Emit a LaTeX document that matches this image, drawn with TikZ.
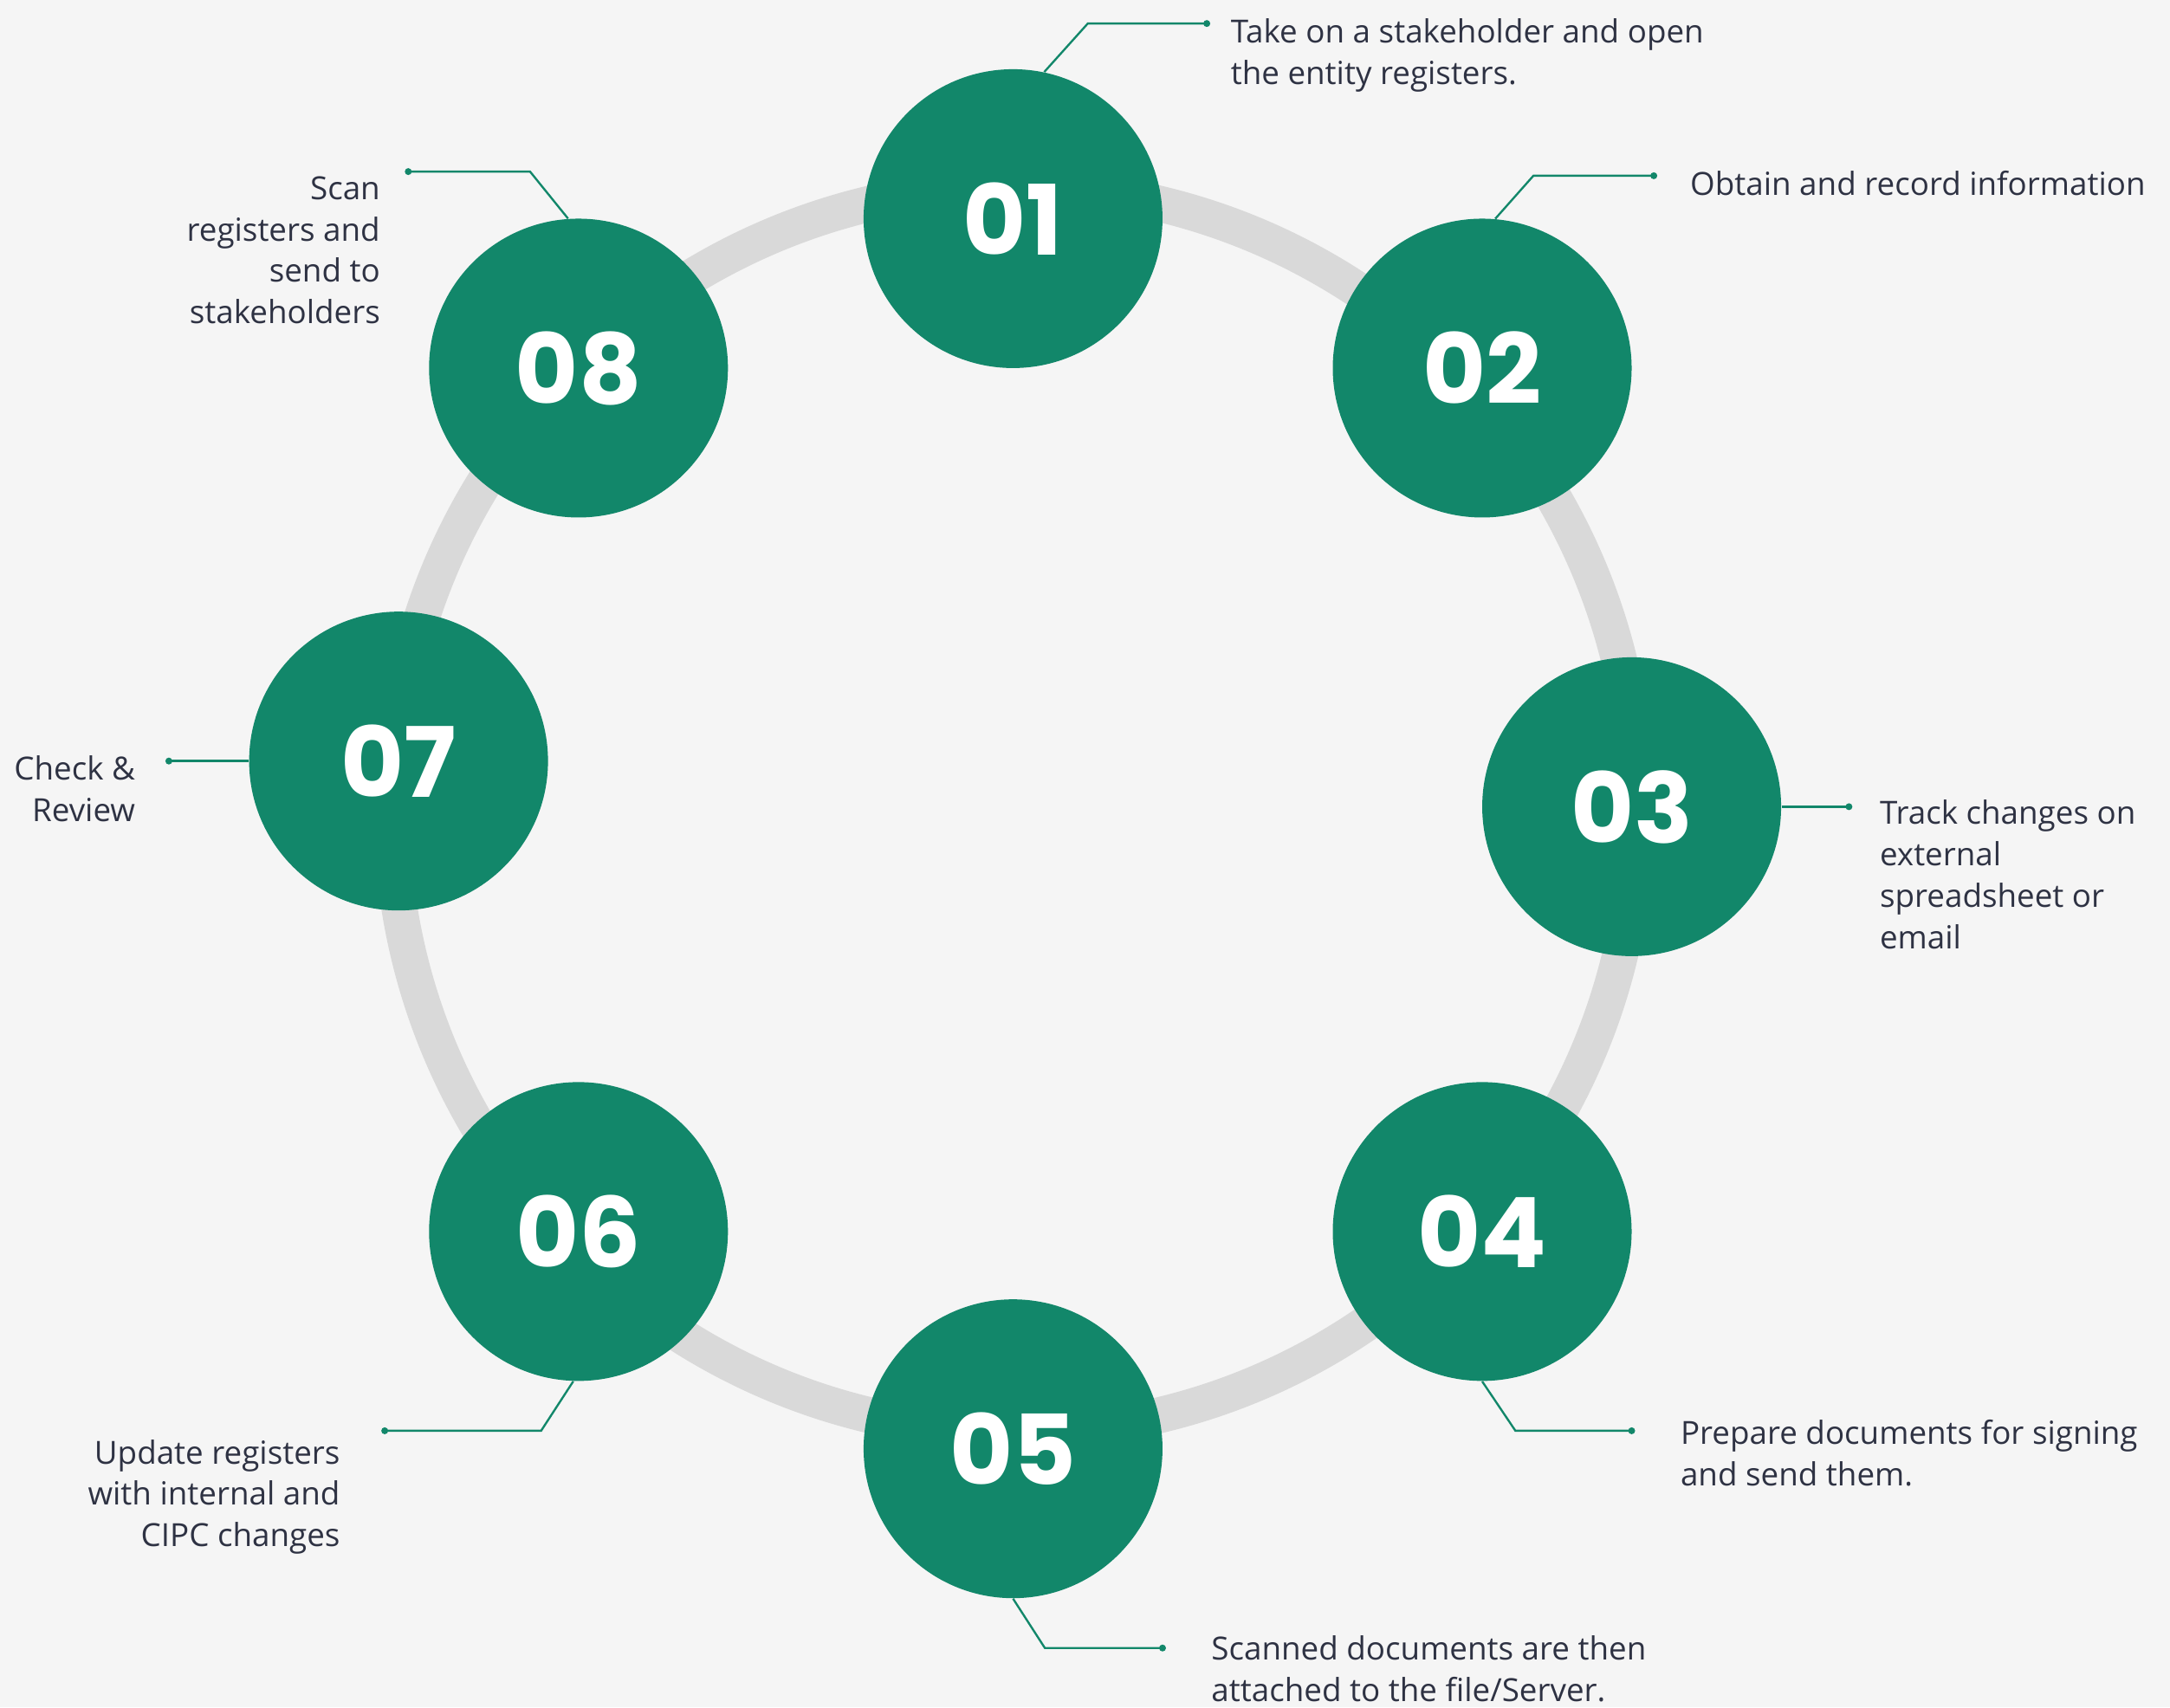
\documentclass[tikz,border=0pt]{standalone}
\usepackage{fontspec}
\setmainfont{Open Sans}
\newfontfamily\numfont{Poppins}
\usetikzlibrary{positioning}
\definecolor{stepgreen}{HTML}{12876A}
\definecolor{ringgray}{HTML}{D9D9D9}
\definecolor{pagebg}{HTML}{F5F5F5}
\definecolor{textdark}{HTML}{2E3243}

\begin{document}
\begin{tikzpicture}[x=0.02cm,y=-0.02cm,
        stepcircle/.style={circle,fill=stepgreen,minimum size=4.32cm,inner sep=0pt,
            text=white,font=\numfont\bfseries\fontsize{40}{40}\selectfont},
        lead/.style={stepgreen,line width=0.85pt},
        desc/.style={inner sep=0pt,text=textdark,font=\fontsize{13.1}{17.07}\selectfont}]
        \fill[pagebg] (0,0) rectangle (1568,1234);
        \useasboundingbox (0,0) rectangle (1568,1234);
        % gray ring behind the steps
        \draw[ringgray,line width=0.52cm] (733,585) circle[radius=450];
        % the eight steps
        \foreach \n/\px/\py in {1/732/158,2/1071/266,3/1179/583,4/1071/890,
                5/732/1047,6/418/890,7/288/550,8/418/266}
            \node[stepcircle] (c\n) at (\px,\py) {0\n};
        % leaders on the right
        \coordinate (k1) at (786,17);
        \coordinate (d1) at (872,17);
        \draw[lead] (c1.78) -- (k1) -- (d1);
        \fill[stepgreen] (d1) circle[radius=2.5];
        \node[desc,anchor=north west,align=left] (t1) at (889,13) {Take on a stakeholder and open\\the entity registers.};
        \coordinate (k2) at (1108,127);
        \coordinate (d2) at (1195,127);
        \draw[lead] (c2.85) -- (k2) -- (d2);
        \fill[stepgreen] (d2) circle[radius=2.5];
        \node[desc,anchor=north west,align=left] (t2) at (1221,123) {Obtain and record information};
        \coordinate (d3) at (1336,583);
        \draw[lead] (c3.east) -- (d3);
        \fill[stepgreen] (d3) circle[radius=2.5];
        \node[desc,anchor=north west,align=left] (t3) at (1358,578) {Track changes on\\external\\spreadsheet or\\email};
        \coordinate (k4) at (1095,1034);
        \coordinate (d4) at (1179,1034);
        \draw[lead] (c4.south) -- (k4) -- (d4);
        \fill[stepgreen] (d4) circle[radius=2.5];
        \node[desc,anchor=north west,align=left] (t4) at (1214,1026) {Prepare documents for signing\\and send them.};
        \coordinate (k5) at (755,1191);
        \coordinate (d5) at (840,1191);
        \draw[lead] (c5.south) -- (k5) -- (d5);
        \fill[stepgreen] (d5) circle[radius=2.5];
        \node[desc,anchor=north west,align=left] (t5) at (875,1182) {Scanned documents are then\\attached to the file/Server.};
        % leaders on the left
        \coordinate (k6) at (391,1034);
        \coordinate (d6) at (278,1034);
        \draw[lead] (c6.268) -- (k6) -- (d6);
        \fill[stepgreen] (d6) circle[radius=2.5];
        \node[desc,anchor=north east,align=right] (t6) at (246,1040) {Update registers\\with internal and\\CIPC changes};
        \coordinate (d7) at (122,550);
        \draw[lead] (c7.west) -- (d7);
        \fill[stepgreen] (d7) circle[radius=2.5];
        \node[desc,anchor=north east,align=right] (t7) at (98,546) {Check \&\\Review};
        \coordinate (k8) at (383,124);
        \coordinate (d8) at (295,124);
        \draw[lead] (c8.94) -- (k8) -- (d8);
        \fill[stepgreen] (d8) circle[radius=2.5];
        \node[desc,anchor=north east,align=right] (t8) at (275,127) {Scan\\registers and\\send to\\stakeholders};
    \end{tikzpicture}
\end{document}
